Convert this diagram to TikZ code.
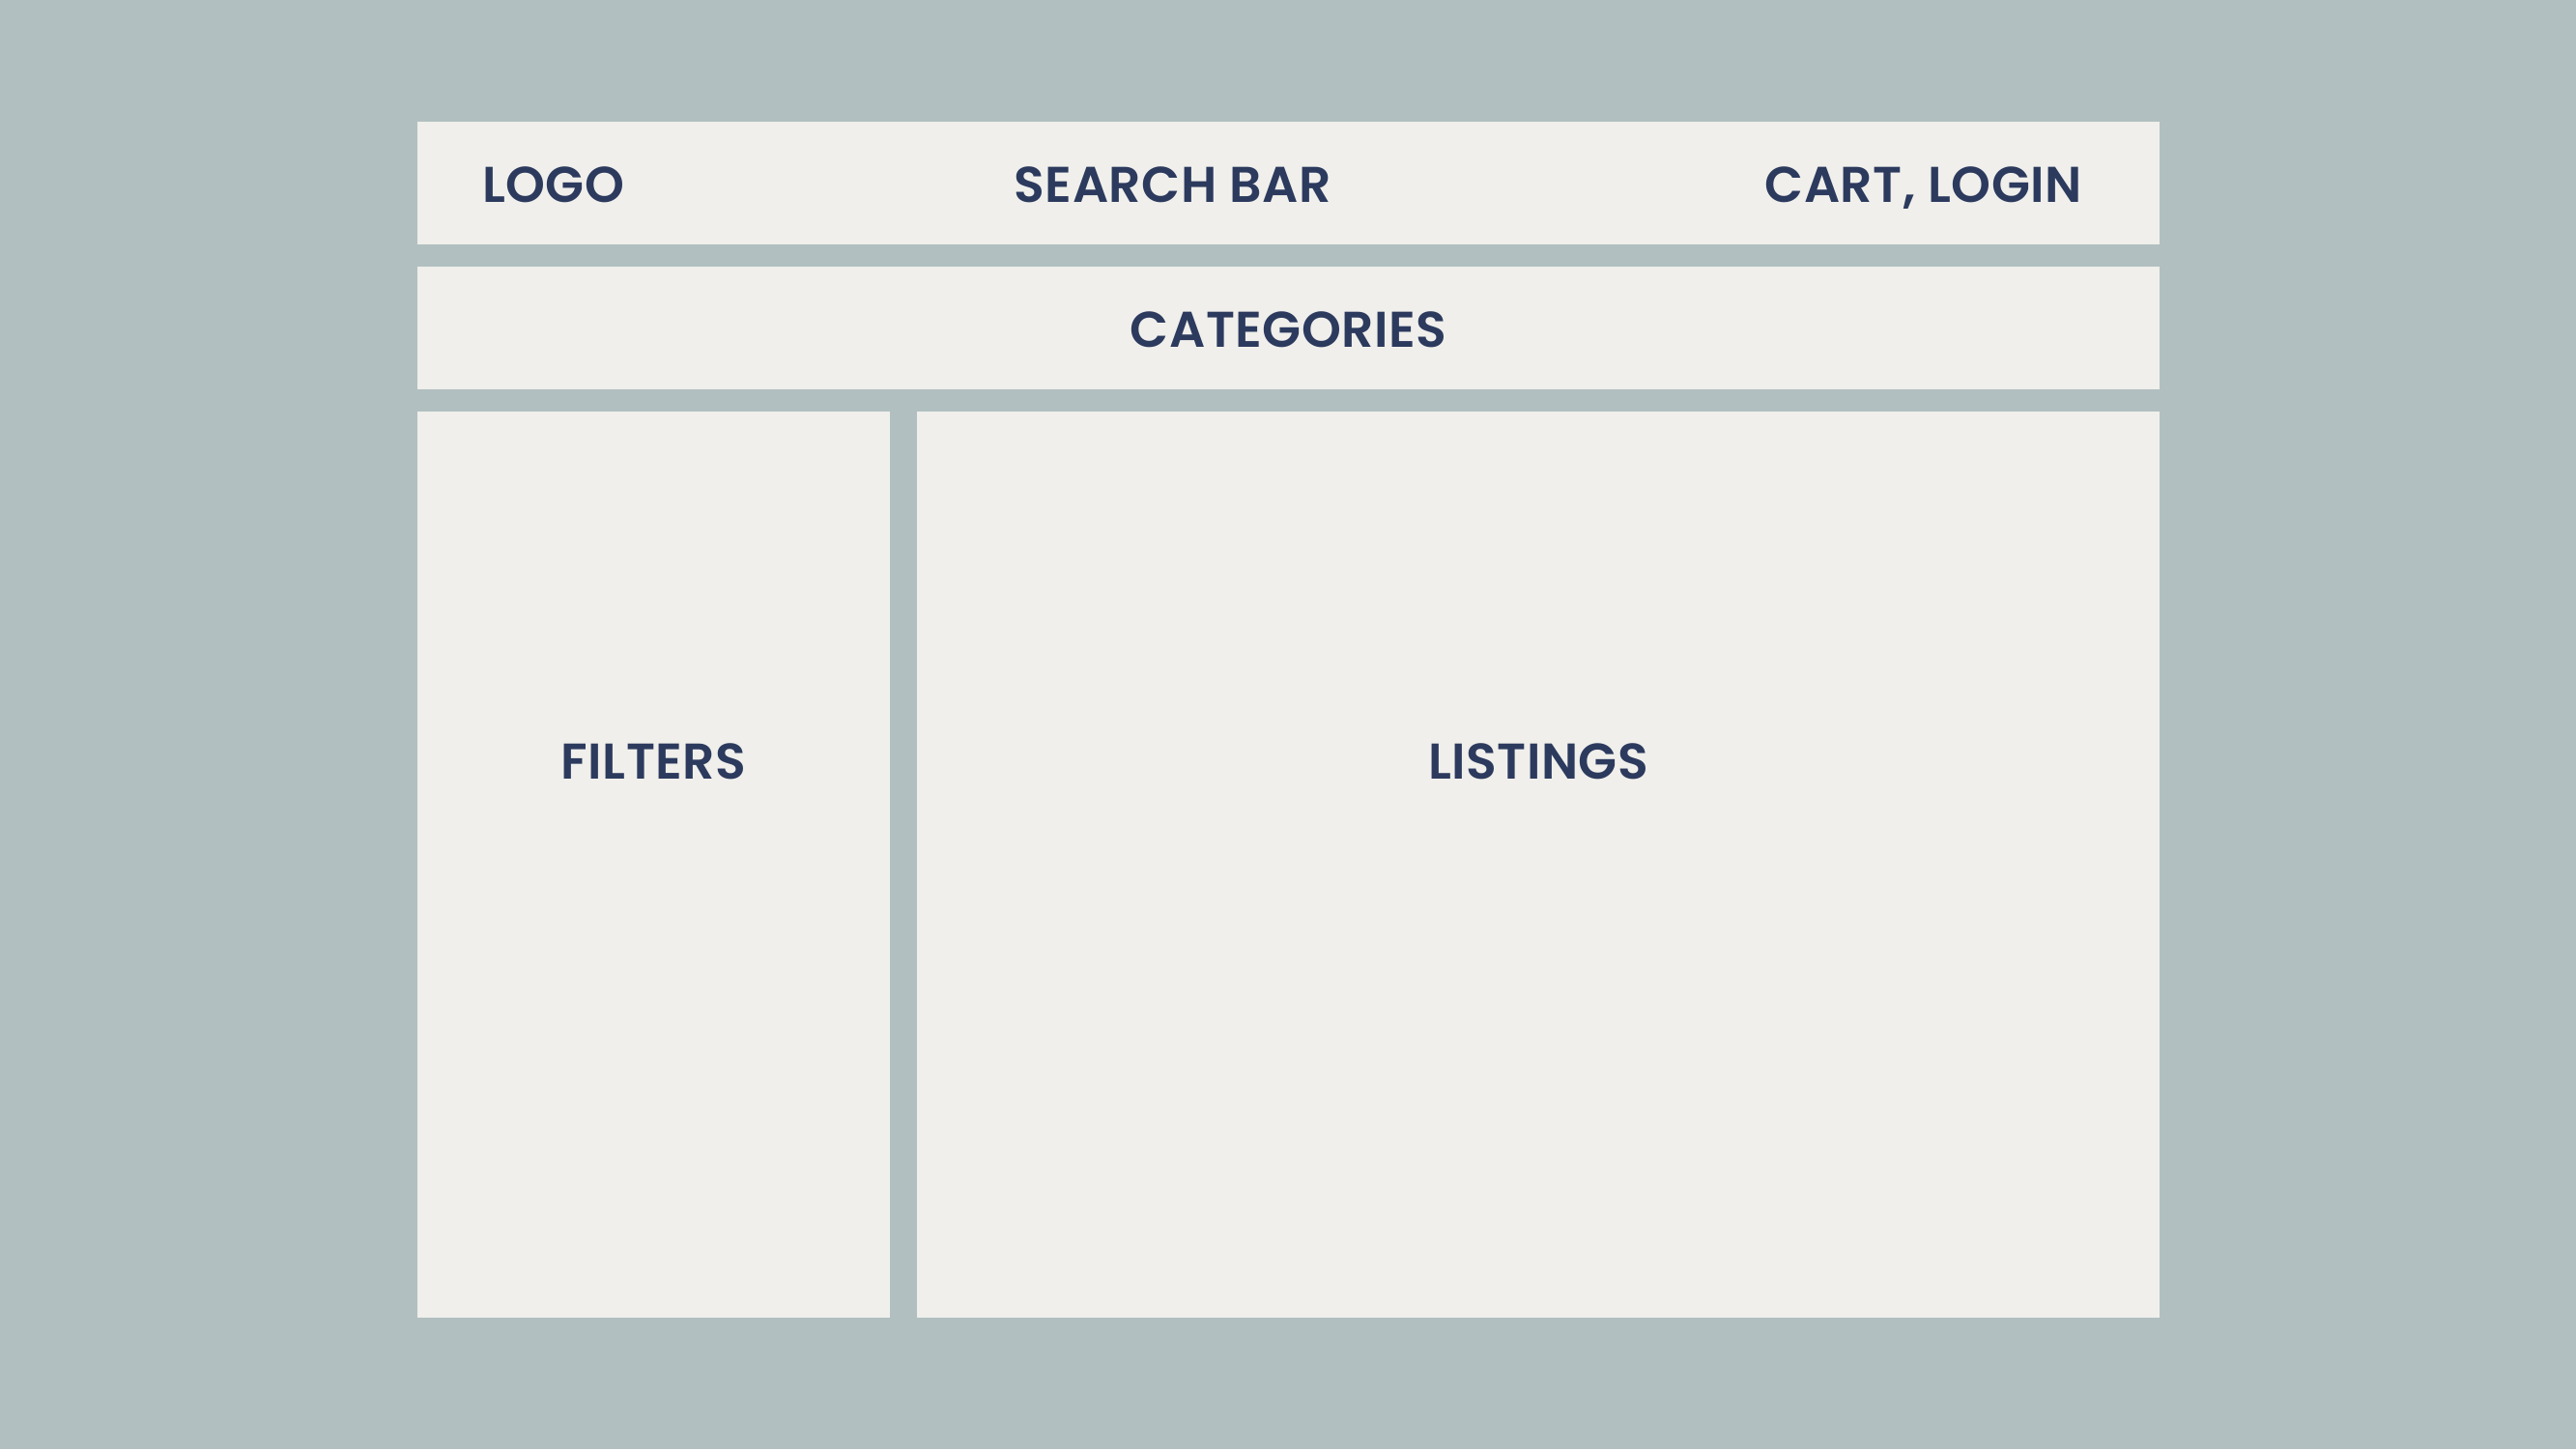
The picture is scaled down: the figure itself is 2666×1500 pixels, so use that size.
\documentclass[tikz,border=0pt]{standalone}
\usepackage{fontspec}
\setmainfont{Poppins}[BoldFont={Poppins SemiBold}, LetterSpace=1]
\usetikzlibrary{positioning}
\definecolor{pagebg}{HTML}{B1BFC0}
\definecolor{panelfill}{HTML}{F0EFEB}
\definecolor{labelink}{HTML}{2C3A5E}
\tikzset{panel/.style={fill=panelfill, draw=none, inner sep=0pt, outer sep=0pt}}
\tikzset{plabel/.style={text=labelink, inner sep=0pt, text depth=0pt, font=\fontsize{52}{60}\selectfont\bfseries}}

\begin{document}
\begin{tikzpicture}[x=1pt,y=-1pt]
			\fill[pagebg] (0,0) rectangle (2666,1500);
			%
			\node[panel, anchor=north west, minimum width=1803pt, minimum height=127pt] (header) at (432,126) {};
			\node[panel, below=23pt of header.south west, anchor=north west, minimum width=1803pt, minimum height=127pt] (cats) {};
			\node[panel, below=23pt of cats.south west, anchor=north west, minimum width=489pt, minimum height=938pt] (filters) {};
			\node[panel, right=28pt of filters.north east, anchor=north west, minimum width=1286pt, minimum height=938pt] (listings) {};
			%
			\node[plabel, anchor=west] (logo) at ([xshift=67pt, yshift=-2pt]header.west) {LOGO};
			\node[plabel] (search) at ([xshift=-120pt, yshift=-2pt]header.center) {SEARCH BAR};
			\node[plabel, anchor=east] (cart) at ([xshift=-80pt, yshift=-2pt]header.east) {CART, LOGIN};
			\node[plabel] (catlabel) at ([yshift=-2pt]cats.center) {CATEGORIES};
			\node[plabel] (filterlabel) at ([yshift=-362pt]filters.north) {FILTERS};
			\node[plabel] (listlabel) at ([yshift=-362pt]listings.north) {LISTINGS};
\end{tikzpicture}
\end{document}
